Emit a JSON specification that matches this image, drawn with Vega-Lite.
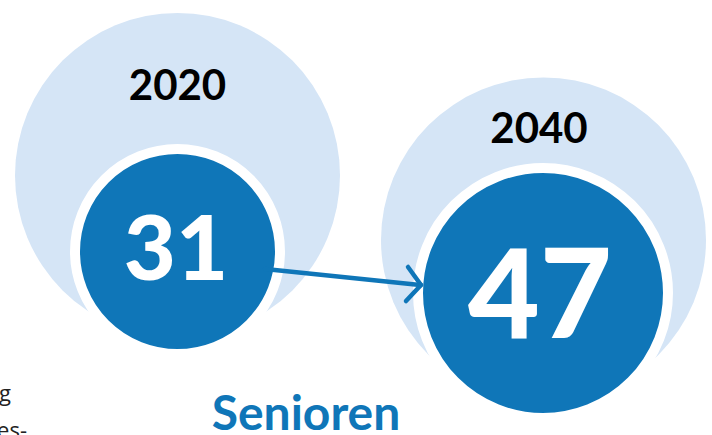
{
  "$schema": "https://vega.github.io/schema/vega-lite/v6.json",
  "width": 712,
  "height": 435,
  "padding": 0,
  "autosize": {"type": "none"},
  "background": "white",
  "config": {"view": {"stroke": null}},
  "datasets": {
    "bubbles": [
      {"year": "2020", "cx": 177.5, "cy": 175.5, "r": 162.5, "value": 31, "vx": 177.5, "vy": 251.5, "vr": 97.5},
      {"year": "2040", "cx": 543.5, "cy": 240, "r": 162.5, "value": 47, "vx": 543, "vy": 293, "vr": 120}
    ],
    "arrow": [
      {"part": "shaft", "x1": 265, "y1": 269, "x2": 420, "y2": 285},
      {"part": "upper", "x1": 408, "y1": 267, "x2": 421, "y2": 285},
      {"part": "lower", "x1": 406, "y1": 301, "x2": 421, "y2": 285}
    ],
    "years": [
      {"label": "2020", "x": 177.5, "y": 100},
      {"label": "2040", "x": 539, "y": 143}
    ],
    "values": [
      {"label": "31", "x": 176, "y": 280, "fs": 90},
      {"label": "47", "x": 540, "y": 338, "fs": 124}
    ],
    "title": [{"label": "Senioren", "x": 306, "y": 430}],
    "side": [
      {"label": "g", "x": 11, "y": 401},
      {"label": "es-", "x": 27, "y": 438}
    ]
  },
  "layer": [
    {
      "data": {"name": "bubbles"},
      "transform": [{"calculate": "4*datum.r*datum.r", "as": "area"}],
      "mark": {"type": "point", "shape": "circle", "filled": true, "fill": "#d5e5f6", "opacity": 1, "strokeWidth": 0},
      "encoding": {
        "x": {"field": "cx", "type": "quantitative", "scale": {"domain": [0, 712], "nice": false, "zero": false}, "axis": null},
        "y": {"field": "cy", "type": "quantitative", "scale": {"domain": [0, 435], "nice": false, "zero": false, "reverse": true}, "axis": null},
        "size": {"field": "area", "type": "quantitative", "scale": null, "legend": null}
      }
    },
    {
      "data": {"name": "bubbles"},
      "transform": [{"calculate": "4*(datum.vr+5)*(datum.vr+5)", "as": "area"}],
      "mark": {"type": "point", "shape": "circle", "filled": true, "fill": "#0f76b8", "opacity": 1, "stroke": "white", "strokeWidth": 10, "strokeOpacity": 1},
      "encoding": {
        "x": {"field": "vx", "type": "quantitative"},
        "y": {"field": "vy", "type": "quantitative"},
        "size": {"field": "area", "type": "quantitative", "scale": null, "legend": null}
      }
    },
    {
      "data": {"name": "arrow"},
      "mark": {"type": "rule", "color": "#0f76b8", "strokeWidth": 4.5, "strokeCap": "round"},
      "encoding": {
        "x": {"field": "x1", "type": "quantitative"},
        "y": {"field": "y1", "type": "quantitative"},
        "x2": {"field": "x2"},
        "y2": {"field": "y2"}
      }
    },
    {
      "data": {"name": "years"},
      "mark": {"type": "text", "font": "Lato", "fontWeight": "bold", "fontSize": 42, "color": "#000000", "align": "center", "baseline": "alphabetic"},
      "encoding": {
        "x": {"field": "x", "type": "quantitative"},
        "y": {"field": "y", "type": "quantitative"},
        "text": {"field": "label"}
      }
    },
    {
      "data": {"name": "values"},
      "mark": {"type": "text", "font": "Lato", "fontWeight": 900, "color": "#ffffff", "align": "center", "baseline": "alphabetic"},
      "encoding": {
        "x": {"field": "x", "type": "quantitative"},
        "y": {"field": "y", "type": "quantitative"},
        "size": {"field": "fs", "type": "quantitative", "scale": null, "legend": null},
        "text": {"field": "label"}
      }
    },
    {
      "data": {"name": "title"},
      "mark": {"type": "text", "font": "Lato", "fontWeight": "bold", "fontSize": 48, "color": "#0f76b8", "align": "center", "baseline": "alphabetic"},
      "encoding": {
        "x": {"field": "x", "type": "quantitative"},
        "y": {"field": "y", "type": "quantitative"},
        "text": {"field": "label"}
      }
    },
    {
      "data": {"name": "side"},
      "mark": {"type": "text", "font": "Open Sans", "fontSize": 22, "color": "#222222", "align": "right", "baseline": "alphabetic"},
      "encoding": {
        "x": {"field": "x", "type": "quantitative"},
        "y": {"field": "y", "type": "quantitative"},
        "text": {"field": "label"}
      }
    }
  ]
}
